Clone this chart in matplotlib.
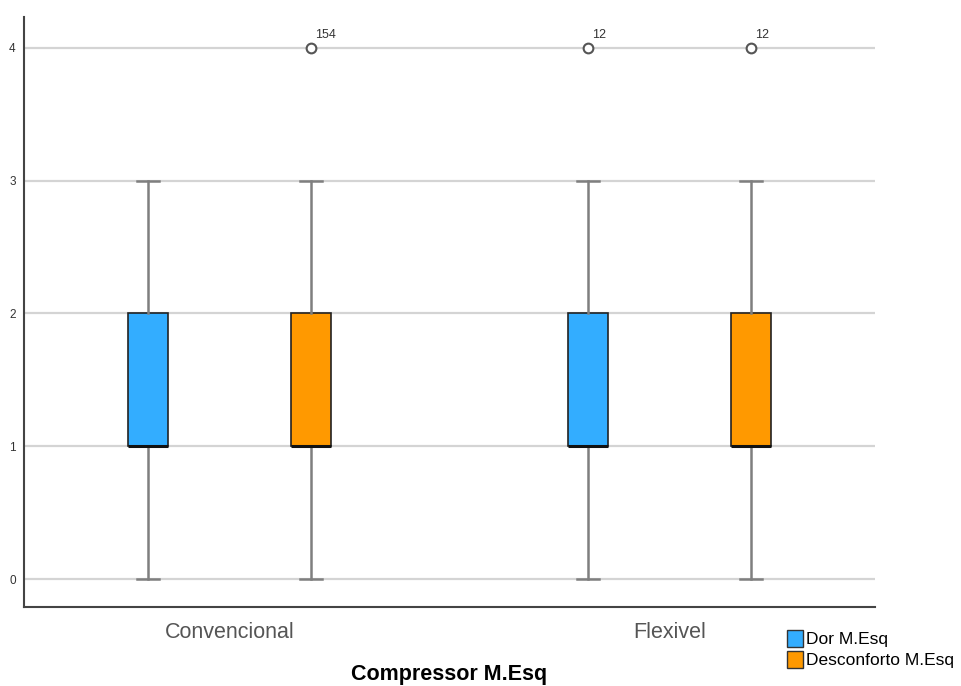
import matplotlib
matplotlib.use("Agg")
import matplotlib.pyplot as plt
from matplotlib.patches import Patch

plt.rcParams["font.family"] = ["Liberation Sans", "DejaVu Sans"]

# summary statistics per box (scores 0-4)
groups = ["Convencional", "Flexivel"]
series = ["Dor M.Esq", "Desconforto M.Esq"]
colors = ["#33adff", "#ff9900"]
q1 = [[1, 1], [1, 1]]          # [group][series]
med = [[1, 1], [1, 1]]
q3 = [[2, 2], [2, 2]]
whislo = [[0, 0], [0, 0]]
whishi = [[3, 3], [3, 3]]
fliers = [[[], [4]], [[4], [4]]]
flier_ids = [[[], ["154"]], [["12"], ["12"]]]

offset = 0.185
width = 0.091

fig = plt.figure(figsize=(9.62, 6.86), dpi=100)
ax = fig.add_axes([0.025, 0.1152, 0.8846, 0.8598])

for yv in range(5):
    ax.axhline(yv, color="#d4d4d4", lw=1.6, zorder=0)

for g in range(len(groups)):
    for s in range(len(series)):
        pos = g + (s * 2 - 1) * offset
        stats = [dict(q1=q1[g][s], med=med[g][s], q3=q3[g][s],
                      whislo=whislo[g][s], whishi=whishi[g][s],
                      fliers=fliers[g][s])]
        ax.bxp(stats, positions=[pos], widths=width, patch_artist=True,
               showfliers=True,
               boxprops=dict(facecolor=colors[s], edgecolor="#222222", lw=1.2),
               medianprops=dict(color="#111111", lw=2.2),
               whiskerprops=dict(color="#7f7f7f", lw=1.8),
               capprops=dict(color="#7f7f7f", lw=1.8),
               capwidths=width * 0.55,
               flierprops=dict(marker="o", markerfacecolor="white",
                               markeredgecolor="#555555", markersize=7,
                               markeredgewidth=1.5))
        for val, lab in zip(fliers[g][s], flier_ids[g][s]):
            ax.annotate(lab, (pos, val), xytext=(3, 7), textcoords="offset points",
                        fontsize=9, color="#333333")

ax.set_xlim(-0.467, 1.467)
ax.set_ylim(-0.21, 4.23)
ax.set_xticks([0, 1])
ax.set_xticklabels(groups, fontsize=15.5, color="#555555")
ax.set_yticks(range(5))
ax.set_yticklabels([str(v) for v in range(5)], fontsize=8.5, color="#333333")
ax.tick_params(length=0, pad=6)
ax.tick_params(axis="x", pad=11)
ax.set_xlabel("Compressor M.Esq", fontsize=15.5, fontweight="bold", labelpad=15)
for side in ["top", "right"]:
    ax.spines[side].set_visible(False)
for side in ["left", "bottom"]:
    ax.spines[side].set_color("#444444")
    ax.spines[side].set_linewidth(1.5)

handles = [Patch(facecolor=c, edgecolor="#333333", label=l) for c, l in zip(colors, series)]
fig.legend(handles=handles, loc="upper left", bbox_to_anchor=(0.809, 0.094),
           frameon=False, handlelength=0.95, handleheight=1.1,
           handletextpad=0.15, labelspacing=0.2, borderpad=0,
           prop=dict(family="Liberation Sans", size=12.5))

fig.savefig("out.png", dpi=100, facecolor="white")
